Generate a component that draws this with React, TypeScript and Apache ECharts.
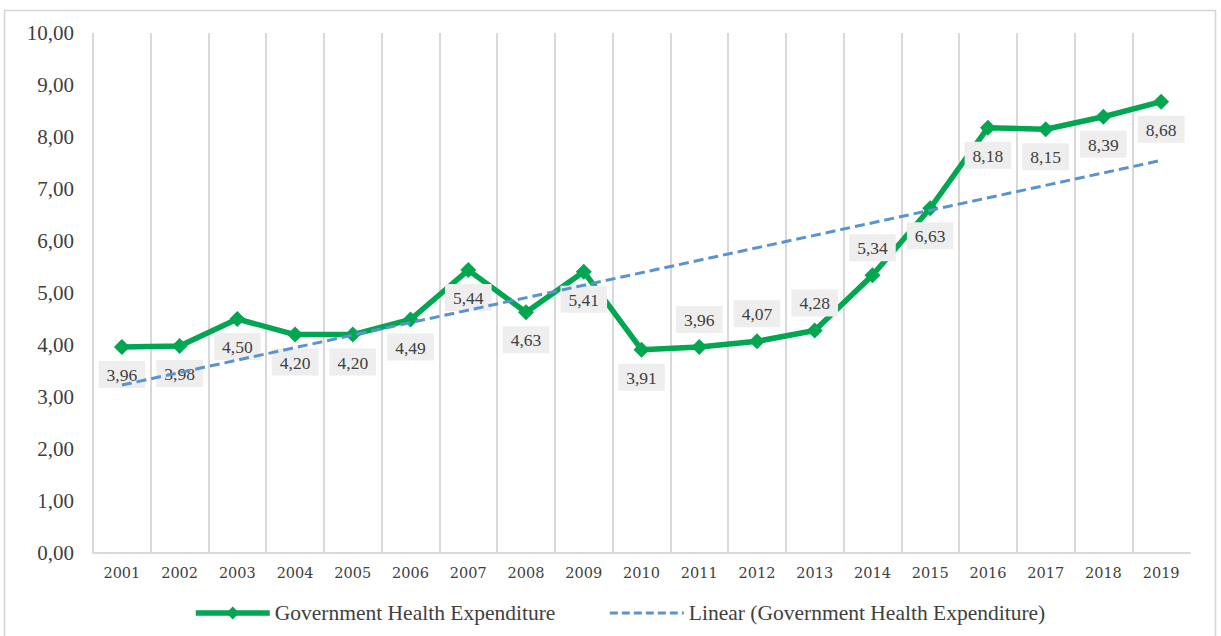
import React, { useEffect, useRef } from "react";
import * as echarts from "echarts";

const years = ["2001","2002","2003","2004","2005","2006","2007","2008","2009","2010","2011","2012","2013","2014","2015","2016","2017","2018","2019"];
const expenditure = [3.96,3.98,4.50,4.20,4.20,4.49,5.44,4.63,5.41,3.91,3.96,4.07,4.28,5.34,6.63,8.18,8.15,8.39,8.68];
const trendYears = ["2001","2019"];
const trendValues = [3.23,7.55];
const labelsAbove = ["2011","2012","2013","2014"];
const seriesName = "Government Health Expenditure";
const trendName = "Linear (Government Health Expenditure)";

const fmt = (v: number) => v.toFixed(2).replace(".", ",");

export default function App() {
  const ref = useRef<HTMLDivElement>(null);
  useEffect(() => {
    document.body.style.margin = "0";
    const chart = echarts.init(ref.current!, undefined, { renderer: "svg" });
    const serif = "'Liberation Serif', 'Times New Roman', serif";
    const green = "#00A650";
    const blue = "#5B93CF";
    chart.setOption({
      animation: false,
      backgroundColor: "#ffffff",
      graphic: [
        {
          type: "rect",
          shape: { x: 4.5, y: 10.5, width: 1211, height: 640 },
          style: { fill: "none", stroke: "#d4d4d4", lineWidth: 1.5 },
          silent: true,
        },
      ],
      grid: { left: 93, right: 31, top: 33, bottom: 83, containLabel: false },
      legend: {
        left: 188,
        top: 597,
        itemWidth: 74,
        itemHeight: 16,
        itemGap: 53,
        textStyle: { fontFamily: serif, fontSize: 21.5, color: "#404040" },
        data: [
          { name: seriesName, lineStyle: { width: 5.5, color: green }, itemStyle: { color: green } },
          { name: trendName, lineStyle: { width: 3, color: blue, type: [8, 4] }, itemStyle: { opacity: 0 } },
        ],
      },
      xAxis: {
        type: "category",
        data: years,
        boundaryGap: true,
        axisLine: { show: true, lineStyle: { color: "#d9d9d9", width: 2 } },
        axisTick: { show: false },
        axisLabel: { fontFamily: "'DejaVu Serif', serif", fontSize: 14.5, color: "#404040", margin: 12 },
        splitLine: { show: true, showMaxLine: false, lineStyle: { color: "#d9d9d9", width: 2 } },
      },
      yAxis: {
        type: "value",
        min: 0,
        max: 10,
        interval: 1,
        axisLine: { show: false },
        axisTick: { show: false },
        splitLine: { show: false },
        axisLabel: { fontFamily: serif, fontSize: 21, color: "#404040", margin: 19, formatter: (v: number) => fmt(v) },
      },
      series: [
        {
          name: seriesName,
          type: "line",
          z: 2,
          symbol: "diamond",
          symbolSize: 16,
          lineStyle: { color: green, width: 5.5 },
          itemStyle: { color: green },
          data: expenditure.map((v, i) => ({
            value: v,
            label: { position: labelsAbove.includes(years[i]) ? "top" : "bottom" },
          })),
          label: {
            show: true,
            distance: 6,
            formatter: (p: any) => fmt(p.value),
            fontFamily: serif,
            fontSize: 17.5,
            color: "#404040",
            backgroundColor: "#eeeeee",
            padding: [5, 8, 4, 8],
          },
        },
        {
          name: trendName,
          type: "line",
          z: 5,
          symbol: "none",
          lineStyle: { color: blue, width: 3, type: [10, 5] },
          itemStyle: { color: blue },
          data: trendYears.map((y, i) => [y, trendValues[i]]),
        },
      ],
    });
    return () => chart.dispose();
  }, []);
  return <div ref={ref} style={{ width: 1221, height: 636 }} />;
}
